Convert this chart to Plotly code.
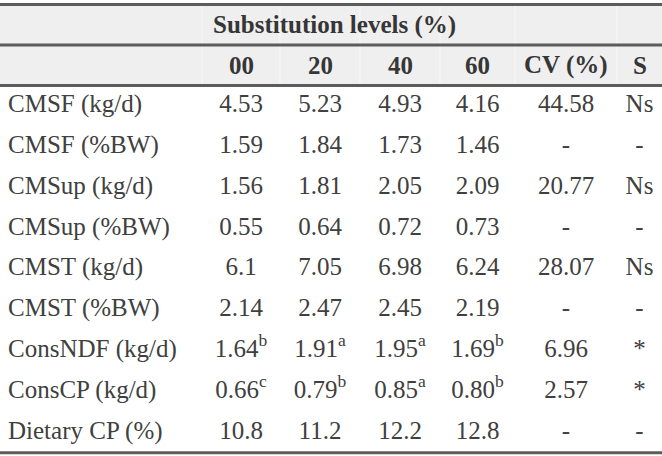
import plotly.graph_objects as go

# ---------------- data ----------------
ROW_LABELS = ["CMSF (kg/d)", "CMSF (%BW)", "CMSup (kg/d)", "CMSup (%BW)",
              "CMST (kg/d)", "CMST (%BW)", "ConsNDF (kg/d)", "ConsCP (kg/d)",
              "Dietary CP (%)"]
GROUP_TITLE = "Substitution levels (%)"
COL_HEADERS = ["00", "20", "40", "60", "CV (%)", "S"]

L00 = ["4.53", "1.59", "1.56", "0.55", "6.1", "2.14", "1.64", "0.66", "10.8"]
L20 = ["5.23", "1.84", "1.81", "0.64", "7.05", "2.47", "1.91", "0.79", "11.2"]
L40 = ["4.93", "1.73", "2.05", "0.72", "6.98", "2.45", "1.95", "0.85", "12.2"]
L60 = ["4.16", "1.46", "2.09", "0.73", "6.24", "2.19", "1.69", "0.80", "12.8"]
SUP00 = ["", "", "", "", "", "", "b", "c", ""]
SUP20 = ["", "", "", "", "", "", "a", "b", ""]
SUP40 = ["", "", "", "", "", "", "a", "a", ""]
SUP60 = ["", "", "", "", "", "", "b", "b", ""]
CV = ["44.58", "-", "20.77", "-", "28.07", "-", "6.96", "2.57", "-"]
SIG = ["Ns", "-", "Ns", "-", "Ns", "-", "*", "*", "-"]

# ---------------- layout constants (pixels) ----------------
W, H = 662, 456
COL_EDGES = [0, 202, 280, 360, 440, 515, 617, 662]
TOP_LINE, MID_LINE, HEAD_LINE = 4.5, 45, 85.5
ROW_H = 40.8
FIRST_ROW_C = HEAD_LINE + ROW_H / 2
BOTTOM_LINE = HEAD_LINE + ROW_H * len(ROW_LABELS)
FONT = "Liberation Serif, Times New Roman, serif"
TXT = "#404040"
HEAD_TXT = "#363636"
LINE = "#5c5c5c"
FILL = "#efefef"
FS = 25


def py(p):
    return 1 - p / H


centers = [(COL_EDGES[i] + COL_EDGES[i + 1]) / 2 for i in range(1, len(COL_EDGES) - 1)]


def with_sup(vals, sups):
    return [v + (f"<sup>{s}</sup>" if s else "") for v, s in zip(vals, sups)]


columns = [with_sup(L00, SUP00), with_sup(L20, SUP20), with_sup(L40, SUP40),
           with_sup(L60, SUP60), CV, SIG]

fig = go.Figure()

# row labels
fig.add_trace(go.Scatter(
    x=[8] * len(ROW_LABELS), y=ROW_LABELS, text=ROW_LABELS, mode="text",
    textposition="middle right", textfont=dict(family=FONT, size=FS, color=TXT),
    hoverinfo="skip", showlegend=False))

for cx, col in zip(centers, columns):
    fig.add_trace(go.Scatter(
        x=[cx] * len(col), y=ROW_LABELS, text=col, mode="text",
        textposition="middle center", textfont=dict(family=FONT, size=FS, color=TXT),
        hoverinfo="skip", showlegend=False))

shapes = [
    dict(type="rect", xref="paper", yref="paper", x0=0, x1=1,
         y0=py(HEAD_LINE), y1=py(TOP_LINE), fillcolor=FILL, line=dict(width=0), layer="below"),
]
for e in COL_EDGES[1:-1]:
    shapes.append(dict(type="line", xref="x", yref="paper", x0=e, x1=e,
                       y0=py(HEAD_LINE), y1=py(TOP_LINE),
                       line=dict(color="#f8f8f8", width=1), layer="below"))
for yl in [TOP_LINE, MID_LINE, HEAD_LINE, BOTTOM_LINE]:
    shapes.append(dict(type="line", xref="paper", yref="paper", x0=0, x1=1,
                       y0=py(yl), y1=py(yl), line=dict(color=LINE, width=3)))

annotations = [dict(x=334, y=py((TOP_LINE + MID_LINE) / 2), xref="x", yref="paper",
                    text=f"<b>{GROUP_TITLE}</b>", showarrow=False,
                    font=dict(family=FONT, size=FS, color=HEAD_TXT),
                    xanchor="center", yanchor="middle")]
for cx, h in zip(centers, COL_HEADERS):
    annotations.append(dict(x=cx, y=py((MID_LINE + HEAD_LINE) / 2), xref="x", yref="paper",
                            text=f"<b>{h}</b>", showarrow=False,
                            font=dict(family=FONT, size=FS, color=HEAD_TXT),
                            xanchor="center", yanchor="middle"))

y_top = -FIRST_ROW_C / ROW_H
y_bot = (H - FIRST_ROW_C) / ROW_H

fig.update_layout(
    width=W, height=H, autosize=False,
    margin=dict(l=0, r=0, t=0, b=0, pad=0),
    paper_bgcolor="white", plot_bgcolor="white",
    xaxis=dict(range=[0, W], visible=False, fixedrange=True),
    yaxis=dict(type="category", categoryorder="array", categoryarray=ROW_LABELS,
               range=[y_bot, y_top], visible=False, fixedrange=True),
    shapes=shapes, annotations=annotations,
)

fig.write_html("out.html", config={"displayModeBar": False},
               post_script="document.body.style.margin='0';document.body.style.overflow='hidden';")
